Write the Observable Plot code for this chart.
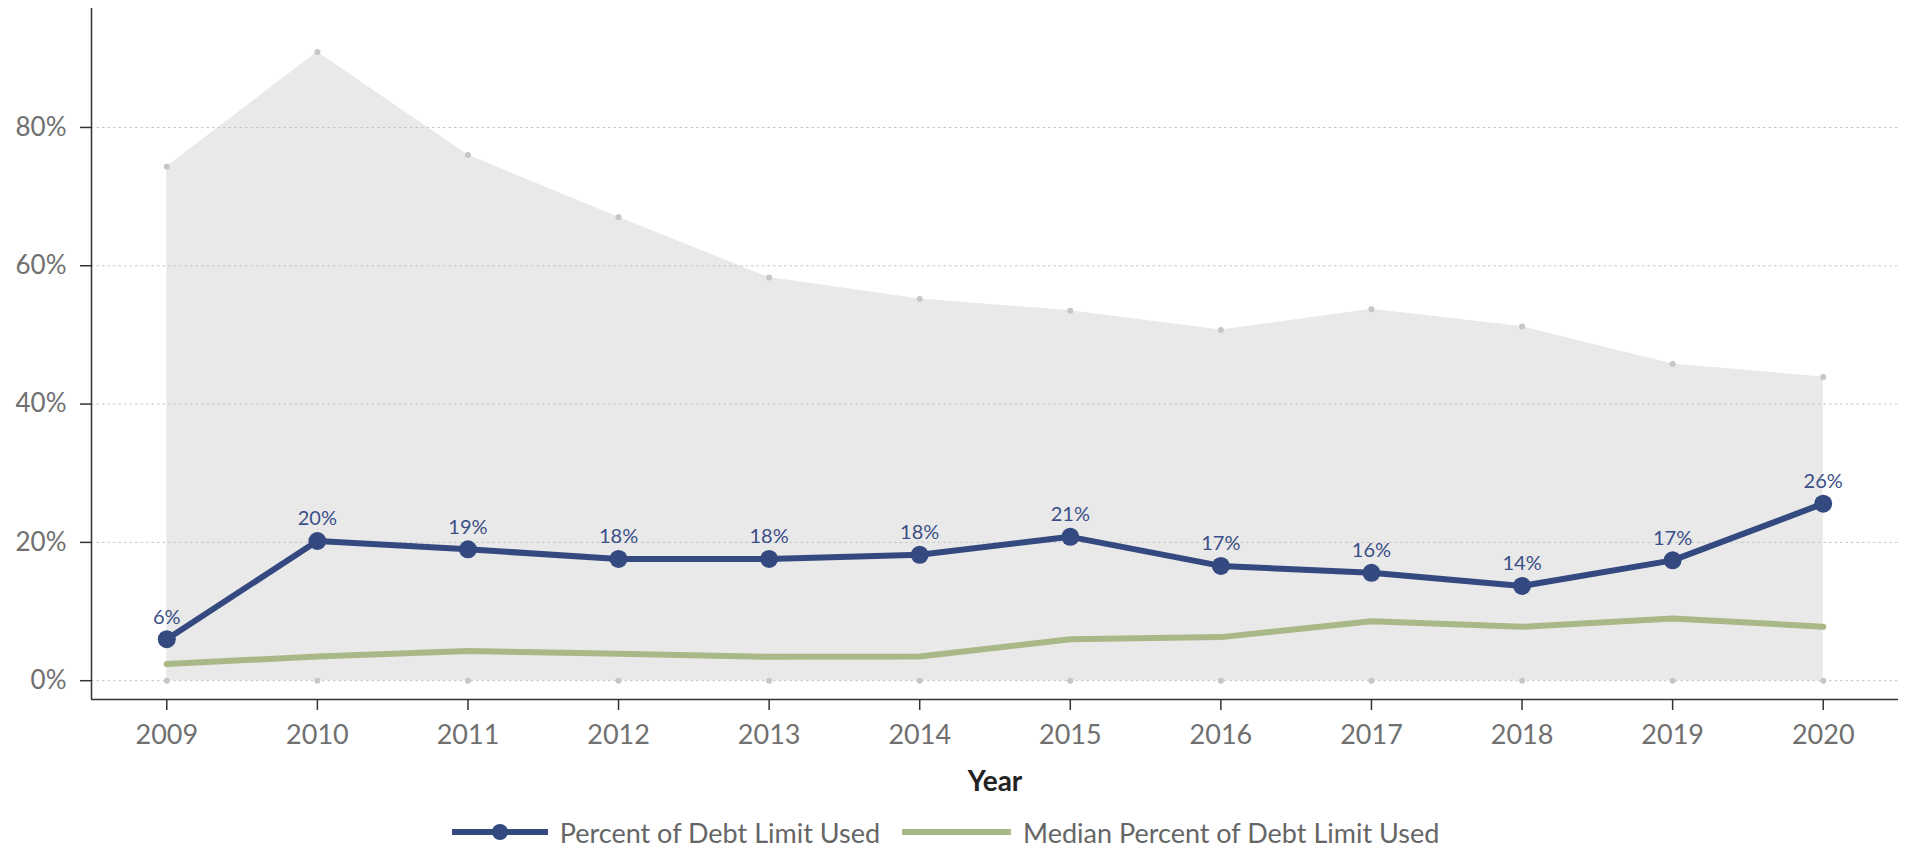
<!DOCTYPE html>
<html>
<head>
<meta charset="utf-8">
<script src="https://cdn.jsdelivr.net/npm/d3@7"></script>
<script src="https://cdn.jsdelivr.net/npm/@observablehq/plot@0.6"></script>
<style>
  html, body { margin: 0; padding: 0; background: #fff; }
  #chart svg { display: block; }
  .legend { display: flex; justify-content: center; align-items: center; height: 30px; margin-top: 7px;
            font-family: Lato, "Open Sans", sans-serif; font-size: 27px; color: #666; padding-right: 16px; }
  .legend .item { display: flex; align-items: center; }
  .legend svg { display: block; margin-right: 12px; }
  .legend .item + .item { margin-left: 22px; }
</style>
</head>
<body>
<div id="chart"></div>
<div class="legend" id="legend"></div>
<script>
const years = [2009, 2010, 2011, 2012, 2013, 2014, 2015, 2016, 2017, 2018, 2019, 2020];
const pctUsed = [0.060, 0.202, 0.190, 0.176, 0.176, 0.182, 0.208, 0.166, 0.156, 0.137, 0.174, 0.256];
const medianUsed = [0.024, 0.035, 0.043, 0.039, 0.0345, 0.035, 0.060, 0.063, 0.086, 0.078, 0.090, 0.078];
const rangeTop = [0.743, 0.909, 0.760, 0.670, 0.583, 0.552, 0.535, 0.507, 0.537, 0.512, 0.458, 0.439];
const yTicks = [0, 0.2, 0.4, 0.6, 0.8];
const seriesNames = ["Percent of Debt Limit Used", "Median Percent of Debt Limit Used"];

const blue = "#34497f";
const green = "#a9b886";

const data = years.map((year, i) => ({year, used: pctUsed[i], median: medianUsed[i], top: rangeTop[i]}));
const pct = d3.format(".0%");

const chart = Plot.plot({
  width: 1907,
  height: 810,
  marginLeft: 91,
  marginRight: 9,
  marginTop: 8,
  marginBottom: 111,
  style: {fontFamily: "Lato, 'Open Sans', sans-serif", background: "#fff"},
  x: {type: "linear", domain: [2008.5, 2020.5], axis: null},
  y: {domain: [-0.0272, 0.972], axis: null},
  marks: [
    Plot.areaY(data, {x: "year", y1: 0, y2: "top", fill: "#e9e9e9"}),
    Plot.gridY(yTicks, {stroke: "#c4c4c4", strokeOpacity: 1, strokeDasharray: "2.5,3", strokeWidth: 1}),
    Plot.dot(data, {x: "year", y: "top", r: 3, fill: "#c6c6c6"}),
    Plot.dot(data, {x: "year", y: 0, r: 3, fill: "#c6c6c6"}),
    Plot.line(data, {x: "year", y: "median", stroke: green, strokeWidth: 6}),
    Plot.line(data, {x: "year", y: "used", stroke: blue, strokeWidth: 6}),
    Plot.dot(data, {x: "year", y: "used", r: 9, fill: blue}),
    Plot.text(data, {x: "year", y: "used", text: d => pct(d.used), dy: -22, lineAnchor: "middle", fill: "#3b4f87", fontSize: 20}),
    Plot.ruleY([-0.0272], {stroke: "#333", strokeWidth: 1.5}),
    Plot.ruleX([2008.5], {stroke: "#333", strokeWidth: 1.5}),
    Plot.axisX(years, {tickSize: 11, tickPadding: 14, tickFormat: d => String(d), stroke: "#333", strokeWidth: 1.5, fill: "#707070", fontSize: 27, label: null}),
    Plot.axisY(yTicks, {tickSize: 11, tickPadding: 14, tickFormat: pct, stroke: "#333", strokeWidth: 1.5, fill: "#707070", fontSize: 26, label: null}),
    Plot.text(["Year"], {frameAnchor: "bottom", dy: 83, lineAnchor: "middle", fontWeight: "bold", fontSize: 28, fill: "#222"})
  ]
});
document.getElementById("chart").appendChild(chart);

// Legend
const legend = document.getElementById("legend");
const swatches = [
  {name: seriesNames[0], color: blue, w: 96, dot: true},
  {name: seriesNames[1], color: green, w: 109, dot: false}
];
for (const s of swatches) {
  const item = document.createElement("div");
  item.className = "item";
  const svg = d3.create("svg").attr("width", s.w).attr("height", 20);
  svg.append("line").attr("x1", 0).attr("x2", s.w).attr("y1", 10).attr("y2", 10)
    .attr("stroke", s.color).attr("stroke-width", 6);
  if (s.dot) svg.append("circle").attr("cx", s.w / 2).attr("cy", 10).attr("r", 8).attr("fill", s.color);
  item.appendChild(svg.node());
  const label = document.createElement("span");
  label.textContent = s.name;
  item.appendChild(label);
  legend.appendChild(item);
}
</script>
</body>
</html>
